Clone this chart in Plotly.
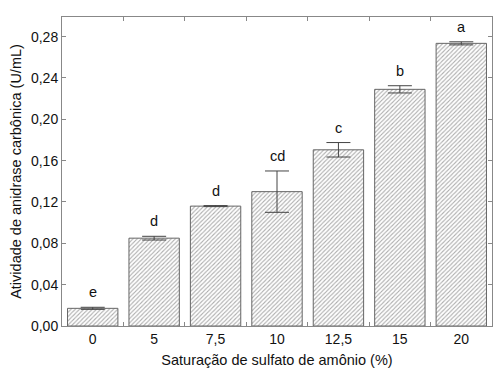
import plotly.graph_objects as go

categories = ["0", "5", "7,5", "10", "12,5", "15", "20"]
values = [0.0171, 0.0850, 0.1160, 0.1300, 0.1705, 0.2290, 0.2735]
errors = [0.0010, 0.0018, 0.0005, 0.0200, 0.0070, 0.0035, 0.0015]
letters = ["e", "d", "d", "cd", "c", "b", "a"]

fig = go.Figure()
fig.add_trace(go.Bar(
    x=categories, y=values,
    error_y=dict(type="data", array=errors, visible=True, color="#444444", thickness=1, width=12),
    marker=dict(color="white", line=dict(color="#666666", width=1),
                pattern=dict(shape="/", fgcolor="#5a5a5a", bgcolor="white", size=3, solidity=0.35)),
    showlegend=False,
))

for i, (v, e, t) in enumerate(zip(values, errors, letters)):
    fig.add_annotation(x=i, y=v + e, text=t, showarrow=False, yanchor="bottom", yshift=5,
                       font=dict(size=14.5, color="#111111"))

axis_common = dict(showline=True, linecolor="#888888", linewidth=1, mirror="ticks",
                   ticks="inside", tickcolor="#888888", ticklen=4, showgrid=False, zeroline=False,
                   tickfont=dict(size=14, color="#111111"))

fig.update_xaxes(**axis_common, type="category", tickson="boundaries", tickangle=0,
                 title=dict(text="Saturação de sulfato de amônio (%)", font=dict(size=14.5, color="#111111"), standoff=9))
fig.update_yaxes(**axis_common, range=[0, 0.299], tickvals=[0, 0.04, 0.08, 0.12, 0.16, 0.20, 0.24, 0.28],
                 tickformat=".2f",
                 title=dict(text="Atividade de anidrase carbônica (U/mL)", font=dict(size=14.5, color="#111111"), standoff=5))

fig.update_layout(
    width=500, height=375,
    margin=dict(l=62, r=8, t=17, b=49),
    plot_bgcolor="white", paper_bgcolor="white",
    bargap=0.18, separators=",.",
    font=dict(family="Liberation Sans, Arial, sans-serif"),
)

fig.write_html("out.html")
